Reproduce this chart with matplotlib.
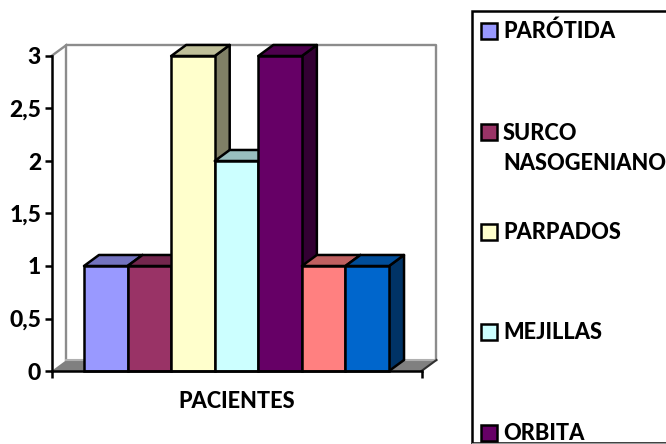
import matplotlib.pyplot as plt
from matplotlib.patches import Polygon, Rectangle

plt.rcParams['font.family'] = ['Lato', 'DejaVu Sans']

values = [1, 1, 3, 2, 3, 1, 1]
bar_colors = ['#9999FF', '#993366', '#FFFFCC', '#CCFFFF', '#660066', '#FF8080', '#0066CC']
legend_names = ['PARÓTIDA', 'SURCO\nNASOGENIANO', 'PARPADOS', 'MEJILLAS', 'ORBITA']
y_ticks = [0, 0.5, 1, 1.5, 2, 2.5, 3]
y_tick_labels = ['0', '0,5', '1', '1,5', '2', '2,5', '3']

# box depth, in data units
DX = 0.344
DY = 0.105
GAP = 0.745
LW = 1.8
WEIGHT = 'black'


def shade(color, f):
    r, g, b = [int(color[i:i + 2], 16) for i in (1, 3, 5)]
    return (r * f / 255, g * f / 255, b * f / 255)


fig = plt.figure(figsize=(6.66, 4.44), dpi=100)
ax = fig.add_axes([51.5 / 666, 73 / 444, 370 / 666, 315 / 444])
ax.patch.set_alpha(0)
x0, x1 = -0.5 - GAP, len(values) - 0.5 + GAP
ax.set_xlim(x0, x1)
ax.set_ylim(0, 3)

# back wall and floor
ax.add_patch(Polygon([(x0, 0), (x0 + DX, DY), (x1 + DX, DY), (x1, 0)], closed=True, fc='#808080',
                     ec='none', clip_on=False, zorder=1))
ax.plot([x1, x1 + DX], [0, DY], color='#303030', lw=1.5, clip_on=False, zorder=1.5)
ax.plot([x0, x0 + DX], [3, 3 + DY], color='#8c8c8c', lw=1.7, clip_on=False, zorder=1)
ax.plot([x0 + DX, x0 + DX, x1 + DX, x1 + DX], [DY, 3 + DY, 3 + DY, DY], color='#8c8c8c', lw=1.7,
        clip_on=False, zorder=1)
ax.plot([x0 + DX, x1 + DX], [DY, DY], color='#b0b0b0', lw=1.5, clip_on=False, zorder=1)

# bars are painted left to right so each one hides the side of the previous
for i, (v, c) in enumerate(zip(values, bar_colors)):
    l, r = i - 0.5, i + 0.5
    z = 2 + i * 0.1
    ax.add_patch(Polygon([(r, 0), (r + DX, DY), (r + DX, v + DY), (r, v)], closed=True, fc=shade(c, 0.5),
                         ec='black', lw=LW, joinstyle='round', clip_on=False, zorder=z))
    ax.add_patch(Polygon([(l, v), (l + DX, v + DY), (r + DX, v + DY), (r, v)], closed=True, fc=shade(c, 0.75),
                         ec='black', lw=LW, joinstyle='round', clip_on=False, zorder=z))
    ax.add_patch(Rectangle((l, 0), 1, v, fc=c, ec='black', lw=LW, clip_on=False, zorder=z))

ax.set_yticks(y_ticks)
ax.set_yticklabels(y_tick_labels, fontsize=16.5, fontweight=WEIGHT)
ax.set_xticks([x0, x1])
ax.set_xticklabels(['', ''])
ax.tick_params(axis='both', width=LW, length=5, pad=2.5, color='black')
ax.set_xlabel('PACIENTES', fontsize=15.7, fontweight=WEIGHT, labelpad=7)
for name in ['top', 'right']:
    ax.spines[name].set_visible(False)
for name in ['left', 'bottom']:
    ax.spines[name].set_linewidth(LW)
    ax.spines[name].set_zorder(5)

# legend box runs off the edge of the figure
lg = fig.add_axes([0, 0, 1, 1])
lg.set_xlim(0, 666)
lg.set_ylim(444, 0)
lg.axis('off')
lg.patch.set_alpha(0)
lg.add_patch(Rectangle((471.5, 11.5), 300, 431.5, fc='white', ec='black', lw=LW, zorder=1))
lg.plot([471.5, 666], [442.8, 442.8], color='#999999', lw=0.8, zorder=2)
legend_y = [31.5, 131.5, 232, 332, 433]
for y, name, c in zip(legend_y, legend_names, bar_colors):
    lg.add_patch(Rectangle((480.5, y - 8), 16, 16, fc=c, ec='black', lw=LW, zorder=3))
    if '\n' in name:
        lg.text(503, y + 17, name, fontsize=15.7, fontweight=WEIGHT, color='black', va='center',
                linespacing=1.5, zorder=3)
    else:
        lg.text(503, y, name, fontsize=15.7, fontweight=WEIGHT, color='black', va='center', zorder=3)

fig.savefig('out.png', dpi=100)
